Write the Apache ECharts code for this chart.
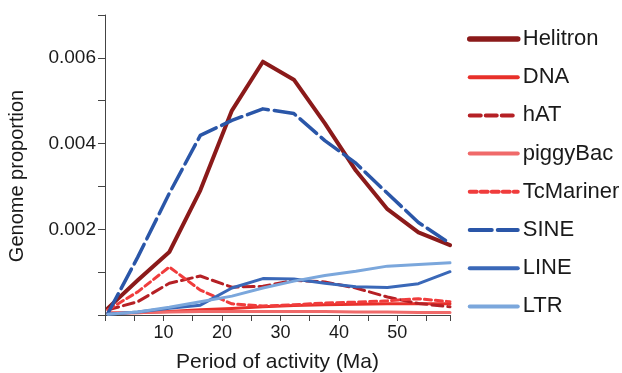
<!DOCTYPE html>
<html>
<head>
<meta charset="utf-8">
<script src="https://cdn.jsdelivr.net/npm/echarts@6/dist/echarts.min.js"></script>
<style>
  html, body { margin: 0; padding: 0; background: #fff; }
  #chart { width: 622px; height: 373px; }
</style>
</head>
<body>
<div id="chart"></div>
<script>
// period of activity (Ma) for each bin
var periods = [0.5, 5.6, 11, 16.3, 21.7, 27, 32.3, 37.6, 42.9, 48.3, 53.6, 59];

var helitron  = [0.00016, 0.00081, 0.00147, 0.00291, 0.00477, 0.00591, 0.00549, 0.00447, 0.00337, 0.00247, 0.00193, 0.00163];
var dna       = [0.00004, 0.00005, 0.00008, 0.00012, 0.00015, 0.00019, 0.00022, 0.00024, 0.00025, 0.00026, 0.00026, 0.00026];
var hat       = [0.00012, 0.00031, 0.00074, 0.00091, 0.00065, 0.00067, 0.00081, 0.00077, 0.00063, 0.00042, 0.00027, 0.00019];
var piggyBac  = [0.00005, 0.00006, 0.00007, 0.00008, 0.00008, 0.00008, 0.00008, 0.00008, 0.00007, 0.00007, 0.00006, 0.00006];
var tcMariner = [0.00012, 0.00054, 0.00112, 0.00058, 0.00026, 0.00021, 0.00024, 0.00028, 0.0003, 0.00033, 0.00038, 0.00031];
var sine      = [0.00004, 0.00135, 0.00284, 0.00419, 0.00454, 0.00481, 0.0047, 0.00407, 0.00354, 0.00284, 0.00216, 0.00167];
var line      = [0.00002, 0.00007, 0.00016, 0.00023, 0.00063, 0.00085, 0.00084, 0.00074, 0.00066, 0.00064, 0.00073, 0.00101];
var ltr       = [0.00002, 0.00007, 0.00018, 0.00031, 0.00044, 0.00063, 0.00079, 0.00092, 0.00102, 0.00114, 0.00118, 0.00122];

var xTickLabels = ['10', '20', '30', '40', '50'];
var yTickLabels = ['0.002', '0.004', '0.006'];

var font = 'Liberation Sans, Arial, sans-serif';

// name, values, colour, line width, legend line width, dash
var styles = [
  ['Helitron', helitron, '#8b1a1a', 4, 5.5],
  ['DNA', dna, '#e8302a', 3, 4],
  ['hAT', hat, '#b52025', 3, 4, [11, 5]],
  ['piggyBac', piggyBac, '#f06a6a', 3, 4],
  ['TcMariner', tcMariner, '#f03c3c', 3, 4, [7, 4]],
  ['SINE', sine, '#2a56a8', 3.5, 4, [22, 6]],
  ['LINE', line, '#3a68b8', 3, 4],
  ['LTR', ltr, '#7ba7dc', 3, 4]
];

function pairs(values) {
  return values.map(function (v, i) { return [periods[i], v]; });
}

var chart = echarts.init(document.getElementById('chart'));
chart.setOption({
  animation: false,
  grid: { left: 105, right: 172, top: 15, bottom: 58, outerBoundsMode: 'none', containLabel: false },
  legend: {
    orient: 'vertical',
    left: 462,
    top: 23,
    itemWidth: 48,
    itemHeight: 14,
    itemGap: 16.2,
    itemStyle: { opacity: 0 },
    textStyle: { fontFamily: font, fontSize: 22, color: '#1a1a1a', lineHeight: 22 },
    data: styles.map(function (s) {
      return { name: s[0], lineStyle: { width: s[4], cap: 'round' } };
    })
  },
  xAxis: {
    type: 'value',
    min: 0,
    max: 59,
    interval: 5,
    name: 'Period of activity (Ma)',
    nameLocation: 'middle',
    nameGap: 37,
    nameTextStyle: { fontFamily: font, fontSize: 21, color: '#1a1a1a' },
    axisLine: { lineStyle: { color: '#444', width: 1 } },
    axisTick: { length: 6, lineStyle: { color: '#444' } },
    axisLabel: {
      margin: 9,
      fontFamily: font,
      fontSize: 18,
      color: '#1a1a1a',
      formatter: function (v) {
        var s = String(Math.round(v));
        return xTickLabels.indexOf(s) >= 0 ? s : '';
      }
    },
    splitLine: { show: false }
  },
  yAxis: {
    type: 'value',
    min: 0,
    max: 0.007,
    interval: 0.001,
    name: 'Genome proportion',
    nameLocation: 'middle',
    nameGap: 78,
    nameTextStyle: { fontFamily: font, fontSize: 20, color: '#1a1a1a', padding: [0, 0, 0, -22] },
    axisLine: { show: true, lineStyle: { color: '#444', width: 1 } },
    axisTick: { show: true, length: 7, lineStyle: { color: '#444' } },
    axisLabel: {
      margin: 9,
      fontFamily: font,
      fontSize: 19,
      color: '#1a1a1a',
      formatter: function (v) {
        var s = v.toFixed(3);
        return yTickLabels.indexOf(s) >= 0 ? s : '';
      }
    },
    splitLine: { show: false }
  },
  series: styles.map(function (s) {
    return {
      name: s[0],
      type: 'line',
      data: pairs(s[1]),
      symbol: 'none',
      lineStyle: { color: s[2], width: s[3], type: s[5] || 'solid', cap: 'round', join: 'round' },
      itemStyle: { color: s[2] },
      emphasis: { disabled: true }
    };
  })
});
</script>
</body>
</html>
